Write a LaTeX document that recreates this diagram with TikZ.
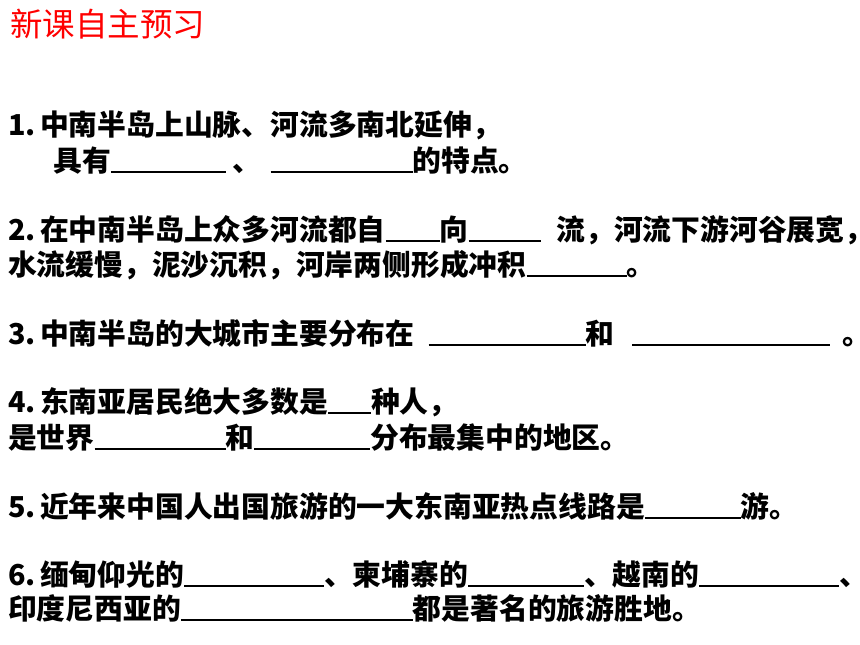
\documentclass[tikz,border=0pt]{standalone}
\usepackage{fontspec}
\setmainfont{Noto Sans CJK SC}
\newcommand\blank[1]{\rule[-1.5pt]{#1pt}{1.4pt}}
\newcommand\itemno[1]{\makebox[32pt][l]{#1}}
\begin{document}
\begin{tikzpicture}[x=1pt,y=1pt,
  qline/.style={anchor=base west,inner sep=0pt,font=\fontsize{28.8}{34}\selectfont\bfseries},
  heading/.style={anchor=base west,inner sep=0pt,text=red,font=\fontsize{32.5}{38}\selectfont}]
  \useasboundingbox (0,0) rectangle (860,-645);
  % title
  \node[heading,at={(10,-36)}] (title) {新课自主预习};

  % question 1
  \node[qline,at={(8,-135)}] (q1a) {\itemno{1.}中南半岛上山脉、河流多南北延伸，};
  \node[qline,at={(53,-171)}] (q1b) {具有\blank{115}\hspace{7pt}、\hspace{9pt}\blank{142}的特点。};

  % question 2
  \node[qline,at={(8,-240)}] (q2a) {\itemno{2.}在中南半岛上众多河流都自\blank{54}向\blank{72}\hspace{16pt}流，河流下游河谷展宽，};
  \node[qline,at={(8,-275)}] (q2b) {水流缓慢，泥沙沉积，河岸两侧形成冲积\blank{100}。};

  % question 3
  \node[qline,at={(8,-344)}] (q3) {\itemno{3.}中南半岛的大城市主要分布在\hspace{14pt}\blank{157}和\hspace{18pt}\blank{198}\hspace{12pt}。};

  % question 4
  \node[qline,at={(8,-412)}] (q4a) {\itemno{4.}东南亚居民绝大多数是\blank{43}种人，};
  \node[qline,at={(8,-448)}] (q4b) {是世界\blank{131}和\blank{116}分布最集中的地区。};

  % question 5
  \node[qline,at={(8,-517)}] (q5) {\itemno{5.}近年来中国人出国旅游的一大东南亚热点线路是\blank{96}游。};

  % question 6
  \node[qline,at={(8,-585)}] (q6a) {\itemno{6.}缅甸仰光的\blank{140}、柬埔寨的\blank{116}、越南的\blank{140}、};
  \node[qline,at={(8,-619)}] (q6b) {印度尼西亚的\blank{232}都是著名的旅游胜地。};
\end{tikzpicture}
\end{document}
